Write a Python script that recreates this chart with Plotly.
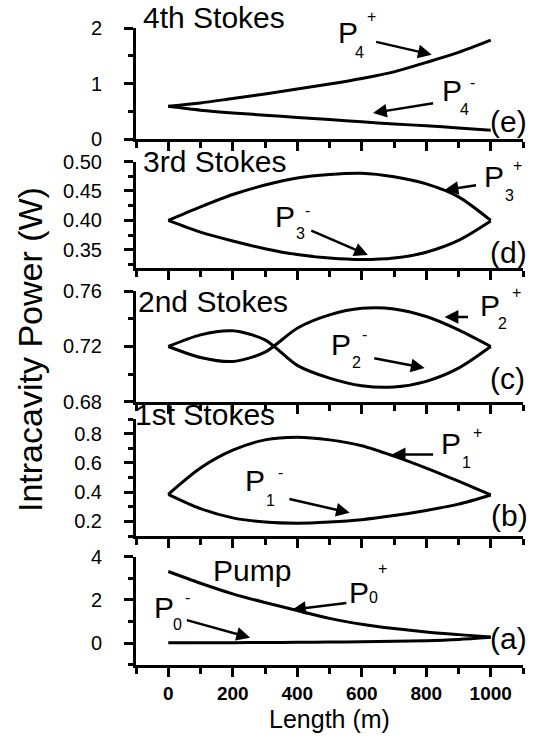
import plotly.graph_objects as go

# ---------------- data ----------------
length_m = [0, 100, 200, 300, 400, 500, 600, 700, 800, 900, 1000]

p4_plus = [0.59, 0.65, 0.73, 0.81, 0.90, 0.99, 1.09, 1.21, 1.38, 1.56, 1.78]
p4_minus = [0.59, 0.52, 0.47, 0.43, 0.39, 0.35, 0.31, 0.27, 0.24, 0.20, 0.16]

p3_plus = [0.400, 0.423, 0.444, 0.460, 0.472, 0.478, 0.480, 0.474, 0.462, 0.440, 0.400]
p3_minus = [0.400, 0.380, 0.365, 0.352, 0.342, 0.336, 0.3335, 0.336, 0.346, 0.366, 0.399]

p2_plus = [0.720, 0.7121, 0.7092, 0.7159, 0.7332, 0.7428, 0.7475, 0.7471, 0.7416, 0.7320, 0.720]
p2_minus = [0.720, 0.7284, 0.7313, 0.7248, 0.7064, 0.6972, 0.6917, 0.6908, 0.6949, 0.7044, 0.720]

p1_plus = [0.385, 0.565, 0.687, 0.758, 0.776, 0.758, 0.718, 0.647, 0.565, 0.475, 0.381]
p1_minus = [0.385, 0.287, 0.224, 0.196, 0.188, 0.196, 0.212, 0.240, 0.275, 0.318, 0.381]

p0_plus = [3.31, 2.77, 2.28, 1.88, 1.51, 1.15, 0.88, 0.68, 0.52, 0.40, 0.29]
p0_minus = [0.02, 0.025, 0.03, 0.035, 0.045, 0.055, 0.07, 0.09, 0.12, 0.18, 0.28]

x_tickvals = [0, 200, 400, 600, 800, 1000]
x_ticktext = ["0", "200", "400", "600", "800", "1000"]

e_ticks = [0, 1, 2]
e_ticktext = ["0", "1", "2"]
d_ticks = [0.35, 0.40, 0.45, 0.50]
d_ticktext = ["0.35", "0.40", "0.45", "0.50"]
c_ticks = [0.68, 0.72, 0.76]
c_ticktext = ["0.68", "0.72", "0.76"]
b_ticks = [0.2, 0.4, 0.6, 0.8]
b_ticktext = ["0.2", "0.4", "0.6", "0.8"]
a_ticks = [0, 2, 4]
a_ticktext = ["0", "2", "4"]

panel_titles = ["Pump", "1st Stokes", "2nd Stokes", "3rd Stokes", "4th Stokes"]
panel_letters = ["(a)", "(b)", "(c)", "(d)", "(e)"]

# ---------------- figure ----------------
FONT = "Liberation Sans, Arial, sans-serif"
fig = go.Figure()

series = [
    (1, p0_plus, p0_minus),
    (2, p1_plus, p1_minus),
    (3, p2_plus, p2_minus),
    (4, p3_plus, p3_minus),
    (5, p4_plus, p4_minus),
]
for idx, yp, ym in series:
    sfx = "" if idx == 1 else str(idx)
    for yy in (yp, ym):
        fig.add_trace(go.Scatter(
            x=length_m, y=yy, mode="lines",
            line=dict(color="black", width=3, shape="spline", smoothing=0.8),
            xaxis="x" + sfx, yaxis="y" + sfx, showlegend=False,
            hoverinfo="skip"))

XRANGE = [-100, 1100]
domains = {
    1: [0.0, 0.1703],
    2: [0.2025, 0.386],
    3: [0.4129, 0.5871],
    4: [0.624, 0.7904],
    5: [0.8257, 1.0],
}
yranges = {1: [-1, 4], 2: [0.1, 0.9], 3: [0.68, 0.76], 4: [0.32, 0.50], 5: [0, 2]}
yticks = {1: (a_ticks, a_ticktext, 1), 2: (b_ticks, b_ticktext, 0.1),
          3: (c_ticks, c_ticktext, 0.02), 4: (d_ticks, d_ticktext, 0.025),
          5: (e_ticks, e_ticktext, 0.5)}

layout = dict(
    width=538, height=740,
    margin=dict(l=136, r=15, t=28, b=75),
    paper_bgcolor="white", plot_bgcolor="white",
    font=dict(family=FONT, color="black"),
    showlegend=False,
)

for i in range(1, 6):
    sfx = "" if i == 1 else str(i)
    tv, tt, mdt = yticks[i]
    layout["xaxis" + sfx] = dict(
        domain=[0, 1], anchor="y" + sfx, range=XRANGE, automargin=False,
        showline=True, linewidth=3, linecolor="black",
        showgrid=False, zeroline=False,
        ticks="outside", ticklen=9, tickwidth=2.5, tickcolor="black",
        tickmode="array", tickvals=x_tickvals, ticktext=x_ticktext,
        showticklabels=(i == 1),
        tickfont=dict(family=FONT, size=19, color="black", weight="bold"),
        ticklabelstandoff=0,
        minor=dict(ticks="outside", ticklen=6, tickwidth=2.5, tickcolor="black",
                   tick0=-100, dtick=200),
    )
    layout["yaxis" + sfx] = dict(
        domain=domains[i], anchor="x" + sfx, range=yranges[i], automargin=False,
        showline=True, linewidth=3, linecolor="black",
        showgrid=False, zeroline=False,
        ticks="outside", ticklen=9, tickwidth=2.5, tickcolor="black",
        tickmode="array", tickvals=tv, ticktext=tt,
        tickfont=dict(family=FONT, size=20, color="black"),
        ticklabelstandoff=18,
        minor=dict(ticks="outside", ticklen=5, tickwidth=2.5, tickcolor="black",
                   tick0=tv[0], dtick=mdt),
    )

layout["xaxis"]["title"] = dict(text="Length (m)", font=dict(family=FONT, size=25, color="black"),
                                standoff=8)

fig.update_layout(**layout)

anns = []


def to_paper(i, x, y):
    y0, y1 = yranges[i]
    d0, d1 = domains[i]
    px = (x - XRANGE[0]) / (XRANGE[1] - XRANGE[0])
    py = d0 + (y - y0) / (y1 - y0) * (d1 - d0)
    return px, py


def txt(i, x, y, text, size, xanchor="center"):
    px, py = to_paper(i, x, y)
    anns.append(dict(xref="paper", yref="paper", x=px, y=py, text=text,
                     showarrow=False, xanchor=xanchor, yanchor="middle",
                     font=dict(family=FONT, size=size, color="black")))


def arrow(i, x0, y0, x1, y1):
    sfx = "" if i == 1 else str(i)
    anns.append(dict(xref="x" + sfx, yref="y" + sfx, axref="x" + sfx, ayref="y" + sfx,
                     x=x1, y=y1, ax=x0, ay=y0, text="", showarrow=True,
                     arrowhead=2, arrowsize=1.1, arrowwidth=2.5, arrowcolor="black",
                     standoff=0, startstandoff=0))


def plabel(i, px, py, sx, sy, subtext, ux, uy, suptext):
    txt(i, px, py, "P", 30)
    txt(i, sx, sy, subtext, 16)
    txt(i, ux, uy, suptext, 16)


# panel titles
txt(5, -86, 2.19, panel_titles[4], 30, "left")
txt(4, -86, 0.500, panel_titles[3], 30, "left")
txt(3, -101, 0.7521, panel_titles[2], 30, "left")
txt(2, -108, 0.9345, panel_titles[1], 30, "left")
txt(1, 260, 3.335, panel_titles[0], 30)

# panel letters
txt(5, 1055, 0.31, panel_letters[4], 30)
txt(4, 1055, 0.3463, panel_letters[3], 30)
txt(3, 1052, 0.6966, panel_letters[2], 30)
txt(2, 1058, 0.2379, panel_letters[1], 30)
txt(1, 1055, 0.216, panel_letters[0], 30)

# 4th Stokes labels
plabel(5, 557, 1.92, 594, 1.56, "4", 631, 2.21, "+")
arrow(5, 640, 1.756, 817, 1.52)
plabel(5, 879, 0.87, 919, 0.525, "4", 944, 1.01, "-")
arrow(5, 826, 0.65, 635, 0.47)

# 3rd Stokes labels
plabel(4, 1010, 0.4754, 1058, 0.443, "3", 1083, 0.494, "+")
arrow(4, 959, 0.460, 857, 0.4516)
plabel(4, 361, 0.4066, 409, 0.3786, "3", 433, 0.4176, "-")
arrow(4, 439, 0.3837, 619, 0.3412)

# 2nd Stokes labels
plabel(3, 998, 0.7492, 1036, 0.7369, "2", 1080, 0.7586, "+")
arrow(3, 934, 0.7413, 857, 0.7413)
plabel(3, 537, 0.7218, 585, 0.7088, "2", 610, 0.7283, "-")
arrow(3, 634, 0.7117, 795, 0.7045)

# 1st Stokes labels
plabel(2, 877, 0.731, 925, 0.603, "1", 959, 0.8103, "+")
arrow(2, 826, 0.6586, 693, 0.6586)
plabel(2, 269, 0.4793, 316, 0.3414, "1", 347, 0.5345, "-")
arrow(2, 371, 0.3552, 563, 0.2586)

# Pump labels
plabel(1, 590, 2.35, 637, 2.10, "0", 665, 3.47, "+")
arrow(1, 557, 1.87, 384, 1.546)
plabel(1, -14, 1.66, 28, 0.858, "0", 59, 2.10, "-")
arrow(1, 53, 1.087, 254, 0.261)

# y-axis title
anns.append(dict(xref="paper", yref="paper", x=-0.274, y=0.496, xanchor="center",
                 yanchor="middle", text="Intracavity Power (W)", textangle=-90,
                 showarrow=False, font=dict(family=FONT, size=34, color="black")))

fig.update_layout(annotations=anns)
fig.write_html("out.html")
